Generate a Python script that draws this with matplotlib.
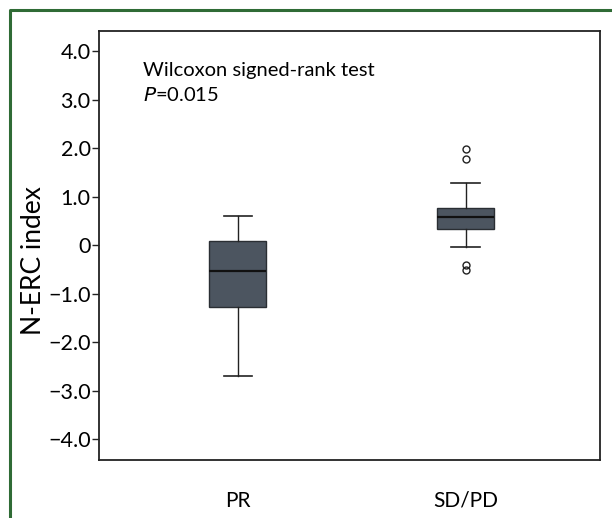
import matplotlib
matplotlib.use("Agg")
import matplotlib.pyplot as plt
from matplotlib.lines import Line2D

# ---- data ----
categories = ["PR", "SD/PD"]
q1 = [-1.28, 0.33]
median = [-0.54, 0.59]
q3 = [0.08, 0.76]
whisker_low = [-2.70, -0.04]
whisker_high = [0.60, 1.28]
outliers = [[], [1.98, 1.77, -0.41, -0.51]]
yticks = [4.0, 3.0, 2.0, 1.0, 0.0, -1.0, -2.0, -3.0, -4.0]
ytick_labels = ["4.0", "3.0", "2.0", "1.0", "0", "\u22121.0", "\u22122.0", "\u22123.0", "\u22124.0"]

plt.rcParams['font.family'] = ['Lato', 'DejaVu Sans']

fig = plt.figure(figsize=(6.12, 5.18), dpi=100)
ax = fig.add_axes([99/612, 58/518, 501/612, 429/518])

stats = []
for i, c in enumerate(categories):
    stats.append(dict(label=c, q1=q1[i], med=median[i], q3=q3[i],
                      whislo=whisker_low[i], whishi=whisker_high[i],
                      fliers=outliers[i]))

ax.bxp(stats, positions=[1, 2], widths=0.25, capwidths=0.125,
       patch_artist=True, showfliers=True,
       boxprops=dict(facecolor="#4c5560", edgecolor="#2a2e33", linewidth=1.0),
       medianprops=dict(color="#111111", linewidth=1.6),
       whiskerprops=dict(color="#222222", linewidth=1.0),
       capprops=dict(color="#222222", linewidth=1.2),
       flierprops=dict(marker="o", markersize=5, markerfacecolor="none",
                       markeredgecolor="#222222", markeredgewidth=1.0))

ax.set_xlim(0.39, 2.59)
ax.set_ylim(-4.43, 4.42)
ax.set_yticks(yticks)
ax.set_yticklabels(ytick_labels, fontsize=15.5)
ax.set_xticks([1, 2])
ax.set_xticklabels(categories, fontsize=15)
ax.tick_params(axis="x", length=0, pad=22)
ax.tick_params(axis="y", length=5, width=1.0, direction="out", pad=1, color="#222222")
for s in ax.spines.values():
    s.set_linewidth(1.3)
    s.set_color("#222222")

ax.set_ylabel("N-ERC index", fontsize=19)
ax.yaxis.set_label_coords(-0.106, 0.466)

ax.text(0.087, 0.895, "Wilcoxon signed-rank test", transform=ax.transAxes,
        fontsize=14.5, va="baseline", ha="left")
ax.text(0.087, 0.837, r"$P$=0.015", transform=ax.transAxes,
        fontsize=14.5, va="baseline", ha="left")

# green frame of the figure panel
fig.add_artist(Line2D([9.5/612, 9.5/612, 1.0], [0.0, 1 - 10/518, 1 - 10/518],
                      transform=fig.transFigure, color="#2f6b35", linewidth=2.2))

fig.savefig("out.png", dpi=100)
